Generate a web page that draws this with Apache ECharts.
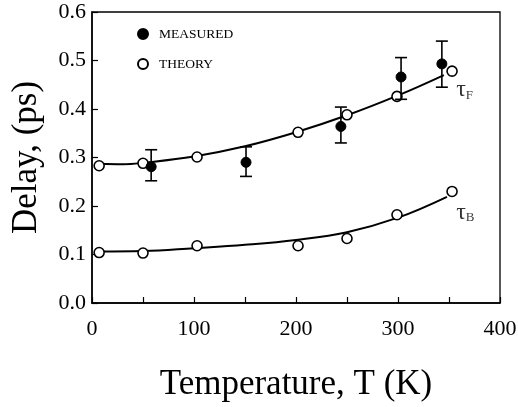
<!DOCTYPE html>
<html><head><meta charset="utf-8">
<script src="https://cdn.jsdelivr.net/npm/echarts@6/dist/echarts.min.js"></script>
<style>html,body{margin:0;padding:0;background:#fff}#c{width:518px;height:407px}</style>
</head><body><div id="c"></div>
<script>
// Measured tau_F (T, delay) with error bar low/high
const measuredT = [58, 151, 244, 303, 343];
const measuredY = [0.281, 0.290, 0.364, 0.466, 0.493];
const measuredLo = [0.252, 0.261, 0.330, 0.420, 0.445];
const measuredHi = [0.316, 0.322, 0.404, 0.506, 0.540];
// Theory points
const theoryT = [7, 50, 103, 202, 250, 299, 353];
const theoryF = [0.283, 0.288, 0.301, 0.352, 0.388, 0.426, 0.478];
const theoryB = [0.104, 0.103, 0.118, 0.118, 0.133, 0.182, 0.230];
// Fitted curves
const curveFT = [7, 30, 50, 100, 150, 200, 250, 300, 345];
const curveFY = [0.287, 0.286, 0.289, 0.302, 0.323, 0.352, 0.387, 0.428, 0.470];
const curveBT = [7, 50, 100, 150, 200, 250, 300, 348];
const curveBY = [0.106, 0.107, 0.113, 0.120, 0.130, 0.146, 0.176, 0.219];
// Curve labels
const curveLabels = [{t: 'F', x: 357, y: 0.440}, {t: 'B', x: 357, y: 0.187}];
const xTicks = [0, 100, 200, 300, 400];

const zip = (a, b) => a.map((v, i) => [v, b[i]]);
const FONT = 'Liberation Serif';
const chart = echarts.init(document.getElementById('c'), null, {renderer: 'canvas'});
chart.setOption({
  animation: false,
  backgroundColor: '#fff',
  grid: {left: 92, right: 18, top: 12, bottom: 104, outerBoundsMode: 'none', containLabel: false,
    show: true, borderColor: '#000', borderWidth: 1.3, backgroundColor: 'transparent'},
  legend: {
    left: 137, top: 27, orient: 'vertical', itemWidth: 10, itemHeight: 10, itemGap: 16, padding: 0,
    data: ['MEASURED', 'THEORY'],
    textStyle: {fontFamily: FONT, fontSize: 13.5, color: '#000', padding: [0, 0, 0, 6]}
  },
  xAxis: {
    type: 'value', min: 0, max: 400, interval: 50,
    name: 'Temperature, T (K)', nameLocation: 'middle', nameGap: 64,
    nameTextStyle: {fontFamily: FONT, fontSize: 35, color: '#000'},
    axisLine: {lineStyle: {color: '#000', width: 1.5}},
    axisTick: {inside: true, length: 6, lineStyle: {color: '#000', width: 1.2}},
    axisLabel: {fontFamily: FONT, fontSize: 22, color: '#000', margin: 15,
      formatter: v => xTicks.includes(v) ? String(v) : ''},
    splitLine: {show: false}
  },
  yAxis: {
    type: 'value', min: 0, max: 0.6, interval: 0.1,
    name: 'Delay, (ps)', nameLocation: 'middle', nameGap: 48,
    nameTextStyle: {fontFamily: FONT, fontSize: 35, color: '#000'},
    axisLine: {show: true, lineStyle: {color: '#000', width: 1.5}},
    axisTick: {show: true, inside: true, length: 6, lineStyle: {color: '#000', width: 1.2}},
    axisLabel: {fontFamily: FONT, fontSize: 22, color: '#000', margin: 6, formatter: v => v.toFixed(1)},
    splitLine: {show: false}
  },
  series: [
    {type: 'line', data: zip(curveFT, curveFY), smooth: 0.4, showSymbol: false, symbol: 'none',
      lineStyle: {color: '#000', width: 2}, z: 2, silent: true},
    {type: 'line', data: zip(curveBT, curveBY), smooth: 0.4, showSymbol: false, symbol: 'none',
      lineStyle: {color: '#000', width: 2}, z: 2, silent: true},
    {name: 'THEORY', type: 'scatter', data: zip(theoryT, theoryF), symbol: 'circle', symbolSize: 10,
      itemStyle: {color: '#fff', borderColor: '#000', borderWidth: 1.6, opacity: 1}, z: 3},
    {name: 'THEORY', type: 'scatter', data: zip(theoryT, theoryB), symbol: 'circle', symbolSize: 10,
      itemStyle: {color: '#fff', borderColor: '#000', borderWidth: 1.6, opacity: 1}, z: 3},
    {type: 'custom', z: 4, silent: true,
      data: measuredT.map((t, i) => [t, measuredLo[i], measuredHi[i]]),
      renderItem: (params, api) => {
        const lo = api.coord([api.value(0), api.value(1)]);
        const hi = api.coord([api.value(0), api.value(2)]);
        const w = 6;
        const st = {stroke: '#000', lineWidth: 1.6};
        return {type: 'group', children: [
          {type: 'line', shape: {x1: lo[0], y1: lo[1], x2: hi[0], y2: hi[1]}, style: st},
          {type: 'line', shape: {x1: lo[0] - w, y1: lo[1], x2: lo[0] + w, y2: lo[1]}, style: st},
          {type: 'line', shape: {x1: hi[0] - w, y1: hi[1], x2: hi[0] + w, y2: hi[1]}, style: st}
        ]};
      }
    },
    {name: 'MEASURED', type: 'scatter', data: zip(measuredT, measuredY), symbol: 'circle', symbolSize: 10,
      itemStyle: {color: '#000', borderColor: '#000', borderWidth: 1, opacity: 1}, z: 5},
    {type: 'scatter', symbolSize: 0, silent: true, z: 6,
      data: curveLabels.map(l => ({value: [l.x, l.y], sub: l.t})),
      label: {show: true, position: 'right', distance: 0,
        formatter: p => '{t|τ}{s|' + p.data.sub + '}',
        rich: {
          t: {fontFamily: FONT, fontSize: 24, color: '#000'},
          s: {fontFamily: FONT, fontSize: 13, color: '#000', verticalAlign: 'bottom', padding: [10, 0, 0, 0]}
        }}
    }
  ]
});
</script></body></html>
